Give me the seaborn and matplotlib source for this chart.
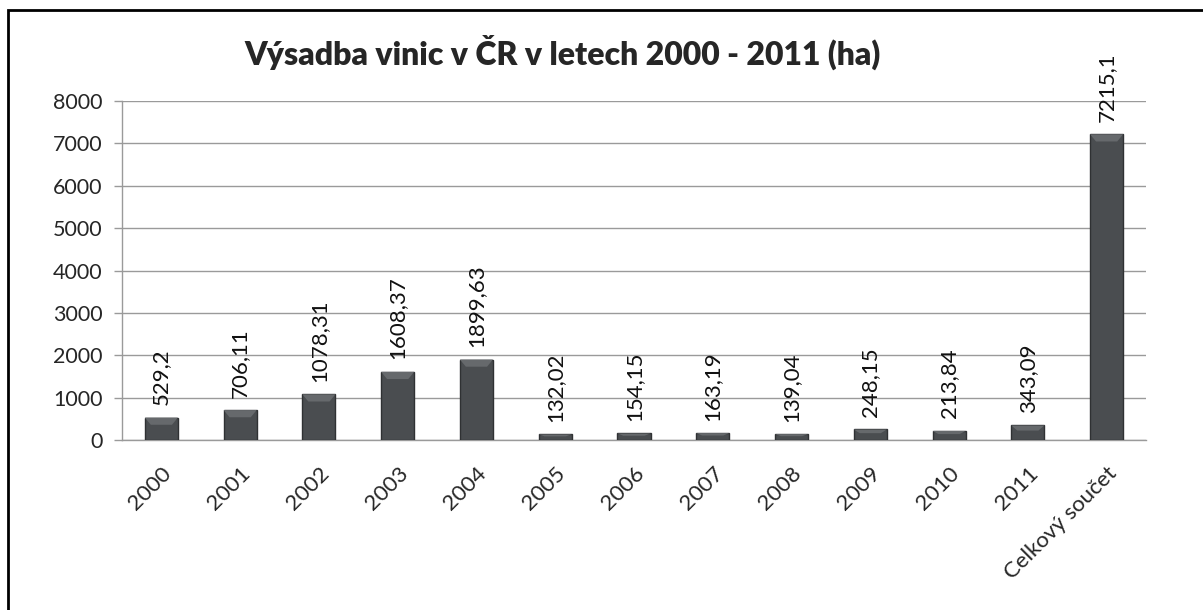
import matplotlib
matplotlib.use("Agg")
import matplotlib.pyplot as plt
from matplotlib.patches import Rectangle, Polygon
import seaborn as sns
import pandas as pd

# Data
categories = ["2000", "2001", "2002", "2003", "2004", "2005", "2006",
              "2007", "2008", "2009", "2010", "2011", "Celkový součet"]
values = [529.2, 706.11, 1078.31, 1608.37, 1899.63, 132.02, 154.15,
          163.19, 139.04, 248.15, 213.84, 343.09, 7215.1]
value_labels = ["529,2", "706,11", "1078,31", "1608,37", "1899,63", "132,02",
                "154,15", "163,19", "139,04", "248,15", "213,84", "343,09",
                "7215,1"]
yticks = [0, 1000, 2000, 3000, 4000, 5000, 6000, 7000, 8000]

df = pd.DataFrame({"rok": categories, "ha": values})

sns.set_style("white")
plt.rcParams['font.family'] = ['Lato', 'DejaVu Sans']

fig = plt.figure(figsize=(12.03, 6.10), dpi=100)
ax = fig.add_axes([0.1014, 0.2787, 0.8512, 0.5557])

sns.barplot(data=df, x="rok", y="ha", ax=ax, color="#4a4d50",
            width=0.42, saturation=1, edgecolor="#2f3133", linewidth=1,
            zorder=3)

# bevel highlight on top of each bar
for p in ax.patches:
    x0, y0 = p.get_x(), p.get_y()
    w, h = p.get_width(), p.get_height()
    d = min(h * 0.35, 170)
    tri = Polygon([(x0, y0 + h), (x0 + w, y0 + h),
                   (x0 + w * 0.82, y0 + h - d), (x0 + w * 0.18, y0 + h - d)],
                  closed=True, facecolor="#66696c", edgecolor="none", zorder=4)
    ax.add_patch(tri)

ax.set_ylim(0, 8000)
ax.set_xlim(-0.5, len(categories) - 0.5)
ax.set_yticks(yticks)
ax.set_yticklabels([str(t) for t in yticks], fontsize=15.5)
ax.yaxis.grid(True, color="#9a9a9a", linewidth=1, zorder=0)
ax.set_axisbelow(True)

for i, (v, lab) in enumerate(zip(values, value_labels)):
    ax.annotate(lab, (i, v), xytext=(0, 9), textcoords="offset points",
                rotation=90, ha="center", va="bottom", fontsize=16,
                color="#111111")

ax.set_xticks(range(len(categories)))
ax.set_xticklabels(categories, rotation=45, ha="right",
                   rotation_mode="anchor", fontsize=16)
ax.tick_params(axis="x", length=0, pad=17)
ax.set_xticks([i - 0.5 for i in range(len(categories) + 1)], minor=True)
ax.tick_params(axis="x", which="minor", length=6, color="#9a9a9a", width=1)
ax.tick_params(axis="y", length=6, color="#9a9a9a", width=1, left=True,
               pad=8)

ax.set_xlabel("")
ax.set_ylabel("")
for s in ["top", "right"]:
    ax.spines[s].set_visible(False)
for s in ["left", "bottom"]:
    ax.spines[s].set_color("#9a9a9a")
    ax.spines[s].set_linewidth(1)

fig.text(0.468, 0.915, "Výsadba vinic v ČR v letech 2000 - 2011 (ha)",
         ha="center", va="center", fontsize=23, fontweight="heavy")

# outer frame
fig.patches.append(Rectangle((8 / 1203, -0.1), 1.2, 1.1 - 10 / 610,
                             transform=fig.transFigure, fill=False,
                             edgecolor="black", linewidth=2))

fig.savefig("out.png", dpi=100)
